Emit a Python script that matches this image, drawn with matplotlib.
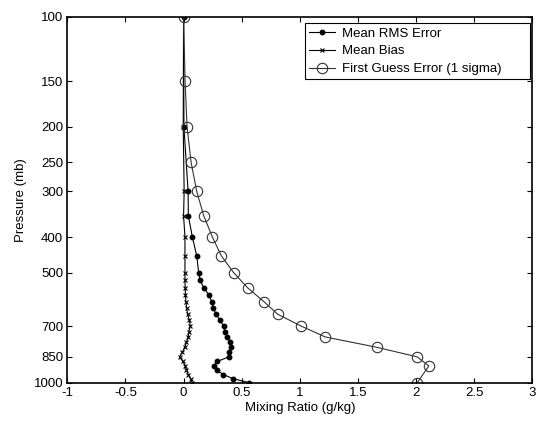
import numpy as np
import matplotlib
matplotlib.use('Agg')
import matplotlib.pyplot as plt
from matplotlib.ticker import NullLocator

plt.rcParams['font.family'] = ['Liberation Sans', 'DejaVu Sans']

# RMS error and bias levels (mb)
levels = [100, 200, 300, 350, 400, 450, 500, 525, 550, 575, 600, 625, 650, 675,
          700, 725, 750, 775, 800, 825, 850, 875, 900, 925, 950, 975, 1000]
rms_error = [0.0, 0.003, 0.039, 0.041, 0.076, 0.113, 0.13, 0.142, 0.174, 0.217,
             0.242, 0.255, 0.28, 0.314, 0.345, 0.354, 0.377, 0.40, 0.409, 0.394,
             0.389, 0.29, 0.262, 0.285, 0.343, 0.426, 0.563]
mean_bias = [0.0, -0.003, 0.005, 0.0, 0.012, 0.012, 0.012, 0.012, 0.014, 0.016,
             0.02, 0.026, 0.035, 0.05, 0.058, 0.045, 0.04, 0.025, 0.01, -0.01,
             -0.035, -0.005, 0.015, 0.025, 0.04, 0.06, 0.075]

# first guess error levels (mb)
fg_levels = [100, 150, 200, 250, 300, 350, 400, 450, 500, 550, 600, 650, 700,
             750, 800, 850, 900, 1000]
fg_error = [0.0, 0.013, 0.03, 0.065, 0.113, 0.174, 0.248, 0.325, 0.43, 0.55,
            0.69, 0.81, 1.01, 1.22, 1.66, 2.01, 2.11, 2.01]

yticks = [100, 150, 200, 250, 300, 400, 500, 700, 850, 1000]
xticks = [-1, -0.5, 0, 0.5, 1, 1.5, 2, 2.5, 3]

fig = plt.figure(figsize=(5.39, 4.21), dpi=100)
ax = fig.add_axes([0.1249, 0.091, 0.8627, 0.869])

ax.plot(rms_error, levels, '-', color='black', lw=0.8, marker='o',
        ms=3.2, mfc='black', mec='black', label='Mean RMS Error')
ax.plot(mean_bias, levels, '-', color='black', lw=0.8, marker='x',
        ms=3.2, mew=0.8, label='Mean Bias')
ax.plot(fg_error, fg_levels, '-', color='#333333', lw=0.8, marker='o',
        ms=7.5, mfc='none', mec='#333333', mew=0.8,
        label='First Guess Error (1 sigma)')

ax.set_yscale('log')
ax.set_ylim(1000, 100)
ax.set_xlim(-1, 3)
ax.set_yticks(yticks)
ax.set_yticklabels([str(t) for t in yticks])
ax.yaxis.set_minor_locator(NullLocator())
ax.set_xticks(xticks)
ax.set_xticklabels(['-1', '-0.5', '0', '0.5', '1', '1.5', '2', '2.5', '3'])

ax.tick_params(direction='in', length=3.5, width=0.8, labelsize=9.5,
               top=True, right=True, pad=3)
for s in ax.spines.values():
    s.set_linewidth(1.2)

ax.set_xlabel('Mixing Ratio (g/kg)', fontsize=9.5, labelpad=2)
ax.set_ylabel('Pressure (mb)', fontsize=9.5, labelpad=5)

leg = ax.legend(loc='upper left', bbox_to_anchor=(0.511, 0, 0.484, 0.982),
                mode='expand', borderaxespad=0, fontsize=9.5, frameon=True,
                fancybox=False, edgecolor='black', framealpha=1,
                handlelength=1.95, handletextpad=0.55, labelspacing=0.42,
                borderpad=0.3)
leg.get_frame().set_linewidth(0.8)

fig.savefig('out.png', dpi=100)
